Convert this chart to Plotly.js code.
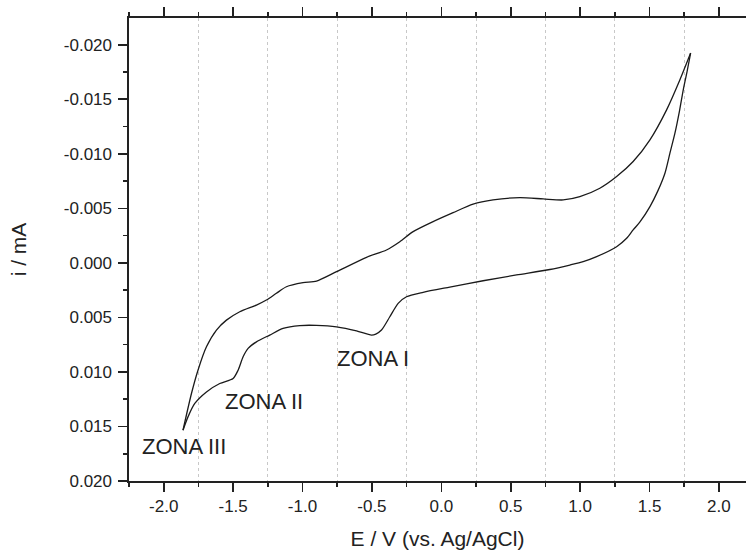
<!DOCTYPE html>
<html>
<head>
<meta charset="utf-8">
<script src="https://cdn.plot.ly/plotly-3.0.1.min.js"></script>
<style>html,body{margin:0;padding:0;background:#fff;}#chart{width:746px;height:552px;}</style>
</head>
<body>
<div id="chart"></div>
<script>
// Sweep from ZONA III vertex to the anodic vertex (upper branch, more negative current)
const upperE = [-1.861, -1.800, -1.753, -1.692, -1.620, -1.548, -1.452, -1.332, -1.260, -1.188, -1.116, -0.996, -0.899, -0.755, -0.539, -0.395, -0.299, -0.203, -0.059, 0.085, 0.229, 0.373, 0.566, 0.734, 0.878, 0.998, 1.142, 1.263, 1.382, 1.503, 1.623, 1.719, 1.796];
const upperI = [0.01534, 0.01198, 0.00984, 0.00770, 0.00616, 0.00525, 0.00448, 0.00387, 0.00341, 0.00279, 0.00219, 0.00182, 0.00167, 0.00081, -0.00051, -0.00118, -0.00194, -0.00286, -0.00378, -0.00460, -0.00538, -0.00577, -0.00598, -0.00586, -0.00577, -0.00607, -0.00684, -0.00791, -0.00929, -0.01128, -0.01403, -0.01679, -0.01924];
// Return sweep from the anodic vertex back to ZONA III (lower branch)
const lowerE = [1.796, 1.770, 1.743, 1.716, 1.683, 1.647, 1.611, 1.560, 1.503, 1.431, 1.382, 1.335, 1.263, 1.119, 1.022, 0.926, 0.782, 0.542, 0.301, 0.061, -0.131, -0.251, -0.311, -0.371, -0.431, -0.472, -0.503, -0.611, -0.755, -0.899, -1.020, -1.140, -1.236, -1.332, -1.392, -1.428, -1.464, -1.500, -1.596, -1.692, -1.776, -1.825, -1.861];
const lowerI = [-0.01924, -0.01752, -0.01587, -0.01394, -0.01189, -0.01006, -0.00822, -0.00660, -0.00516, -0.00375, -0.00302, -0.00225, -0.00148, -0.00057, -0.00011, 0.00020, 0.00061, 0.00111, 0.00164, 0.00222, 0.00270, 0.00311, 0.00371, 0.00494, 0.00616, 0.00653, 0.00662, 0.00623, 0.00586, 0.00573, 0.00575, 0.00601, 0.00662, 0.00724, 0.00784, 0.00861, 0.00984, 0.01060, 0.01106, 0.01183, 0.01289, 0.01412, 0.01534];

const xTickVals = [-2.0, -1.5, -1.0, -0.5, 0.0, 0.5, 1.0, 1.5, 2.0];
const xTickText = ["-2.0", "-1.5", "-1.0", "-0.5", "0.0", "0.5", "1.0", "1.5", "2.0"];
const yTickVals = [-0.020, -0.015, -0.010, -0.005, 0.000, 0.005, 0.010, 0.015, 0.020];
const yTickText = ["-0.020", "-0.015", "-0.010", "-0.005", "0.000", "0.005", "0.010", "0.015", "0.020"];

const zoneLabels = ["ZONA I", "ZONA II", "ZONA III"];
const zoneE = [-0.494, -1.276, -1.851];
const zoneI = [0.00873, 0.01268, 0.01681];

const lineStyle = {color: '#1a1a1a', width: 1.3, shape: 'spline', smoothing: 0.7};
const traces = [
  {x: upperE, y: upperI, type: 'scatter', mode: 'lines', line: lineStyle, hoverinfo: 'skip', showlegend: false},
  {x: lowerE, y: lowerI, type: 'scatter', mode: 'lines', line: lineStyle, hoverinfo: 'skip', showlegend: false}
];

const FONT = 'Liberation Sans, Arial, sans-serif';
const axisFont = {family: FONT, size: 17, color: '#222'};
const layout = {
  width: 746, height: 552,
  margin: {l: 129, r: 0, t: 18, b: 71},
  paper_bgcolor: '#fff', plot_bgcolor: '#fff',
  showlegend: false,
  xaxis: {
    range: [-2.25, 2.195],
    tickmode: 'array', tickvals: xTickVals, ticktext: xTickText,
    ticks: 'outside', ticklen: 9, tickwidth: 1.6, tickcolor: '#222',
    showline: true, linecolor: '#222', linewidth: 1.6, mirror: 'ticks',
    showgrid: false, zeroline: false,
    tickfont: axisFont,
    minor: {dtick: 0.5, tick0: 0.25, ticks: 'outside', ticklen: 4.5, tickwidth: 1.6, tickcolor: '#222',
            showgrid: true, gridcolor: '#c8c8c8', griddash: 'dot', gridwidth: 1},
    title: {text: 'E / V (vs. Ag/AgCl)', font: {family: FONT, size: 21, color: '#222'}, standoff: 16}
  },
  yaxis: {
    range: [0.0200, -0.02245],
    tickmode: 'array', tickvals: yTickVals, ticktext: yTickText,
    ticks: 'outside', ticklen: 9, tickwidth: 1.6, tickcolor: '#222',
    showline: true, linecolor: '#222', linewidth: 1.6, mirror: false,
    showgrid: false, zeroline: false,
    tickfont: axisFont, ticklabelstandoff: 3,
    minor: {dtick: 0.005, tick0: 0.0025, ticks: 'outside', ticklen: 4.5, tickwidth: 1.6, tickcolor: '#222', showgrid: false},
    title: {text: 'i / mA', font: {family: FONT, size: 21, color: '#222'}, standoff: 31}
  },
  annotations: zoneLabels.map((t, k) => ({
    x: zoneE[k], y: zoneI[k], xref: 'x', yref: 'y', text: t, showarrow: false,
    xanchor: 'center', yanchor: 'middle',
    font: {family: FONT, size: 22, color: '#222'}
  }))
};

Plotly.newPlot('chart', traces, layout, {staticPlot: true, displayModeBar: false});
</script>
</body>
</html>
